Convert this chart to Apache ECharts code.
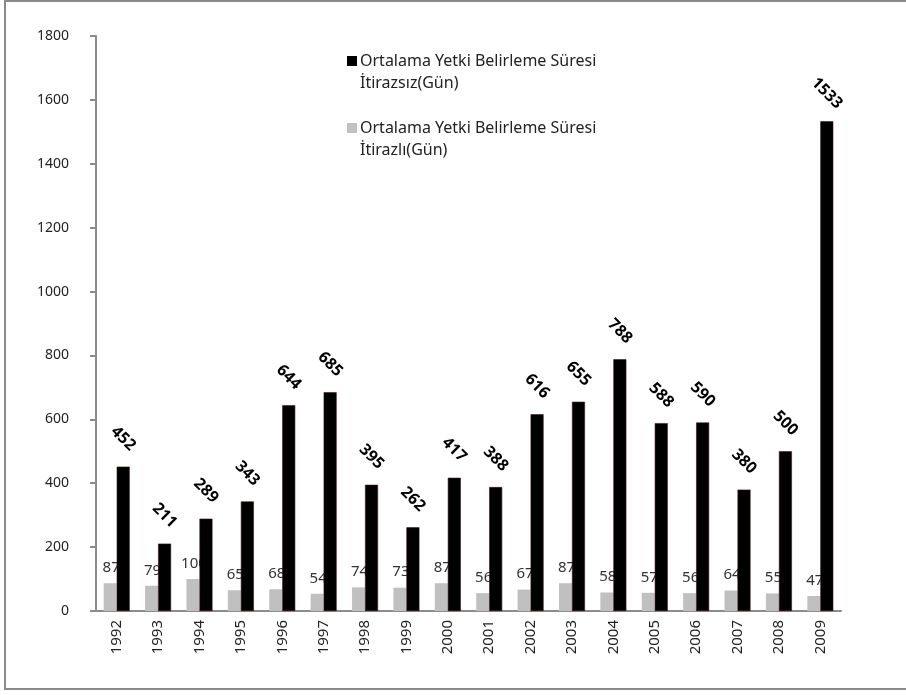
<!DOCTYPE html>
<html>
<head>
<meta charset="utf-8">
<script src="https://cdn.jsdelivr.net/npm/echarts@6/dist/echarts.min.js"></script>
<style>
  html, body { margin: 0; padding: 0; background: #fff; }
  #chart { width: 906px; height: 695px; }
</style>
</head>
<body>
<div id="chart"></div>
<script>
  // yıllar ve değerler
  const years = ['1992', '1993', '1994', '1995', '1996', '1997', '1998', '1999', '2000',
    '2001', '2002', '2003', '2004', '2005', '2006', '2007', '2008', '2009']
  const itirazli = [87, 79, 100, 65, 68, 54, 74, 73, 87, 56, 67, 87, 58, 57, 56, 64, 55, 47]
  const itirazsiz = [452, 211, 289, 343, 644, 685, 395, 262, 417, 388, 616, 655, 788, 588, 590, 380, 500, 1533]
  const yTicks = [0, 200, 400, 600, 800, 1000, 1200, 1400, 1600, 1800]

  const nameSiz = 'Ortalama Yetki Belirleme Süresi\nİtirazsız(Gün)'
  const nameLi = 'Ortalama Yetki Belirleme Süresi\nİtirazlı(Gün)'

  const font = 'Noto Sans'
  const axisColor = '#8c8c8c'

  const chart = echarts.init(document.getElementById('chart'))
  chart.setOption({
    animation: false,
    textStyle: { fontFamily: font },
    graphic: [{
      type: 'rect',
      shape: { x: 5, y: 1, width: 960, height: 688 },
      style: { fill: 'none', stroke: '#8a8a8a', lineWidth: 2 }
    }],
    legend: {
      orient: 'vertical',
      left: 342,
      top: 45,
      itemGap: 23,
      itemWidth: 10,
      itemHeight: 32,
      // kare ikon ilk satıra hizalansın diye altta görünmez bir nokta var
      icon: 'path://M0,0H10V10H0Z M5,32H5.01V31.99H5Z',
      itemStyle: { borderWidth: 0 },
      data: [nameSiz, nameLi],
      textStyle: { fontFamily: font, fontSize: 16, lineHeight: 22, color: '#222', padding: [0, 0, 0, -2] }
    },
    grid: {
      left: 96,
      right: 65,
      top: 36,
      bottom: 84
    },
    xAxis: {
      type: 'category',
      data: years,
      axisLine: { lineStyle: { color: axisColor, width: 2 } },
      axisTick: { length: 6, lineStyle: { color: axisColor, width: 2 } },
      axisLabel: { rotate: 90, margin: 9, fontSize: 15, color: '#222', fontFamily: font }
    },
    yAxis: {
      type: 'value',
      min: yTicks[0],
      max: yTicks[yTicks.length - 1],
      interval: 200,
      splitLine: { show: false },
      axisLine: { show: true, lineStyle: { color: axisColor, width: 2 } },
      axisTick: { show: true, length: 6, lineStyle: { color: axisColor, width: 2 } },
      axisLabel: {
        margin: 27,
        fontSize: 14,
        color: '#222',
        fontFamily: font,
        formatter: v => String(v)
      }
    },
    series: [{
      name: nameLi,
      type: 'bar',
      data: itirazli,
      barWidth: 13,
      barGap: '0%',
      itemStyle: { color: '#c0c0c0' },
      label: {
        show: true,
        position: 'top',
        distance: 8,
        offset: [1, 0],
        fontSize: 15,
        color: '#333',
        fontFamily: font
      }
    }, {
      name: nameSiz,
      type: 'bar',
      data: itirazsiz,
      barWidth: 13,
      barGap: '0%',
      z: 3,
      itemStyle: { color: '#000', borderColor: '#3a1515', borderWidth: 0.6 },
      label: {
        show: true,
        position: 'top',
        distance: 28,
        rotate: -45,
        align: 'center',
        verticalAlign: 'middle',
        fontSize: 16,
        fontWeight: 'bold',
        color: '#000',
        fontFamily: font
      }
    }]
  })
</script>
</body>
</html>
